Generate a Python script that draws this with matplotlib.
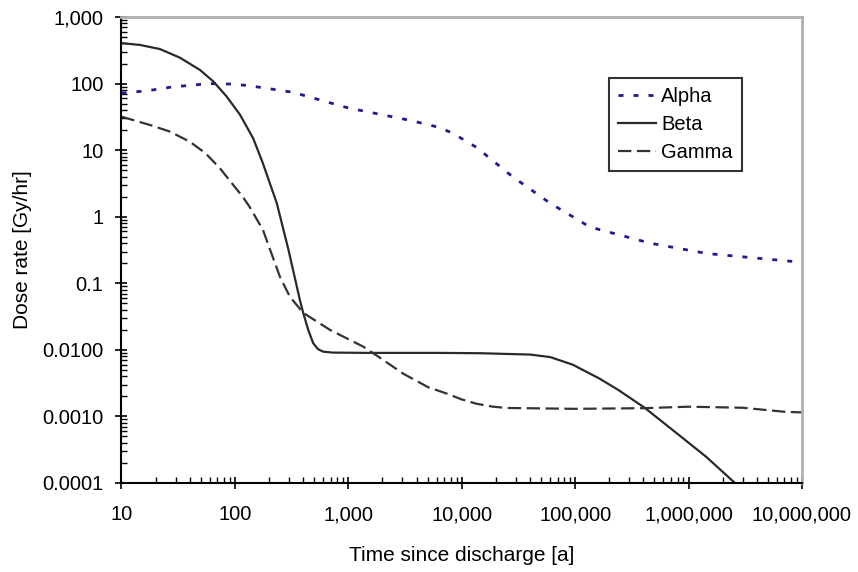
import matplotlib
matplotlib.use("Agg")
import matplotlib.pyplot as plt
from matplotlib.ticker import FixedLocator, FixedFormatter, LogLocator, NullFormatter

plt.rcParams['font.family'] = ['Liberation Sans', 'DejaVu Sans']

# Time since discharge [a] and dose rate [Gy/hr]
alpha_t = [10, 17, 28, 60, 100, 145, 324, 1000, 3500, 6300, 8300, 13500, 28000,
           60000, 135000, 460000, 1450000, 9000000, 10000000]
alpha_d = [72, 78, 89, 100, 98, 91, 74, 43, 28, 22, 18, 11, 4,
           1.6, 0.7, 0.4, 0.28, 0.21, 0.205]

beta_t = [10, 14.6, 21.8, 32.7, 49.2, 64.4, 84.5, 111, 145, 175, 203, 234, 297,
          374, 400, 443, 490, 542, 600, 725, 1500, 6300, 14500, 40000, 60000,
          95000, 164000, 240000, 410000, 720000, 1440000, 2500000, 3000000]
beta_d = [405, 380, 330, 245, 160, 108, 64, 34, 15, 6.6, 3.2, 1.6, 0.316,
          0.056, 0.036, 0.02, 0.0126, 0.0102, 0.0094, 0.0091, 0.0090, 0.0090, 0.0089,
          0.0085, 0.0078, 0.006, 0.0037, 0.0025, 0.00135, 0.00063, 0.000245,
          0.000104, 0.00007]

gamma_t = [10, 17.8, 26.7, 40, 55, 74, 117, 135, 177, 190, 249, 305, 400, 687, 841,
           1350, 1925, 3040, 5050, 7400, 10000, 13500, 18900, 25000, 100000, 400000,
           1000000, 3000000, 7200000, 10000000]
gamma_d = [31.8, 23.9, 19, 13.4, 9.0, 5.3, 2.0, 1.4, 0.63, 0.45, 0.126, 0.063, 0.036,
           0.02, 0.0168, 0.0112, 0.0075, 0.0044, 0.00275, 0.0022, 0.0018, 0.00155,
           0.0014, 0.00134, 0.0013, 0.00133, 0.0014, 0.00135, 0.00117, 0.00115]

x_ticks = [10, 100, 1000, 10000, 100000, 1000000, 10000000]
x_labels = ["10", "100", "1,000", "10,000", "100,000", "1,000,000", "10,000,000"]
y_ticks = [0.0001, 0.001, 0.01, 0.1, 1, 10, 100, 1000]
y_labels = ["0.0001", "0.0010", "0.0100", "0.1", "1", "10", "100", "1,000"]

fig = plt.figure(figsize=(8.58, 5.72), dpi=100)
ax = fig.add_axes([0.1416, 0.1556, 0.7931, 0.8147])

ax.plot(alpha_t, alpha_d, color="#1c1c8e", lw=2, dashes=(1.8, 3.6), label="Alpha")
ax.plot(beta_t, beta_d, color="#2a2a2a", lw=1.6, label="Beta")
ax.plot(gamma_t, gamma_d, color="#333333", lw=1.6, dashes=(6, 2.5), label="Gamma")

ax.set_xscale("log")
ax.set_yscale("log")
ax.set_xlim(10, 1e7)
ax.set_ylim(1e-4, 1e3)

ax.xaxis.set_major_locator(FixedLocator(x_ticks))
ax.xaxis.set_major_formatter(FixedFormatter(x_labels))
ax.yaxis.set_major_locator(FixedLocator(y_ticks))
ax.yaxis.set_major_formatter(FixedFormatter(y_labels))
ax.xaxis.set_minor_locator(LogLocator(base=10, subs=range(2, 10), numticks=20))
ax.yaxis.set_minor_locator(LogLocator(base=10, subs=range(2, 10), numticks=20))
ax.xaxis.set_minor_formatter(NullFormatter())
ax.yaxis.set_minor_formatter(NullFormatter())

ax.tick_params(which="major", direction="inout", length=8, width=1.2,
               labelsize=14.5, colors="black")
ax.tick_params(axis="x", which="major", pad=12)
ax.tick_params(axis="y", which="major", pad=9)
ax.tick_params(which="minor", direction="in", length=4, width=1)
ax.tick_params(top=False, right=False, which="both")

for s in ["left", "bottom"]:
    ax.spines[s].set_color("black")
    ax.spines[s].set_linewidth(1.5)
for s in ["top", "right"]:
    ax.spines[s].set_color("#b0b0b0")
    ax.spines[s].set_linewidth(2)

ax.set_xlabel("Time since discharge [a]", fontsize=15, labelpad=16)
ax.set_ylabel("Dose rate [Gy/hr]", fontsize=15, labelpad=7)

leg = ax.legend(loc="upper left", bbox_to_anchor=(0.716, 0.869), borderaxespad=0,
                fontsize=14.5, frameon=True, fancybox=False, handlelength=1.9,
                handletextpad=0.25, borderpad=0.45, labelspacing=0.45)
leg.get_frame().set_edgecolor("black")
leg.get_frame().set_linewidth(1.5)

fig.savefig("out.png", dpi=100)
